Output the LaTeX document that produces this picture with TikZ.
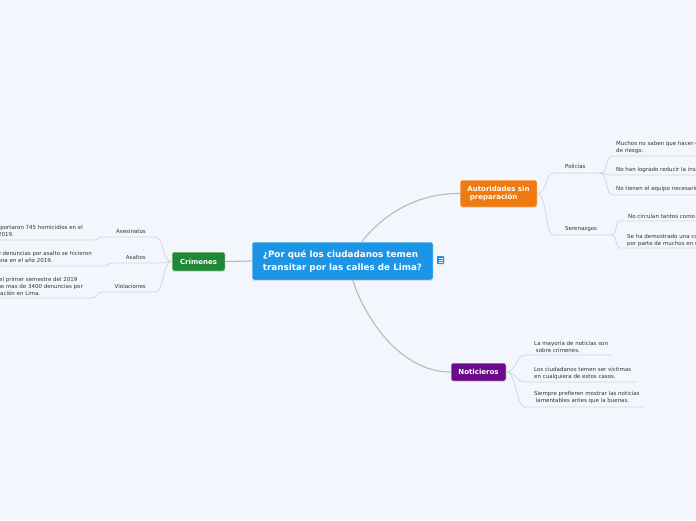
\documentclass[tikz,border=0pt]{standalone}
\usepackage{fontspec}
\setmainfont{DejaVu Sans}
\usetikzlibrary{shadows}
\definecolor{bg}{HTML}{F3F6FD}
\definecolor{cblue}{HTML}{1C95E6}
\definecolor{cgreen}{HTML}{1F8737}
\definecolor{corange}{HTML}{F07A12}
\definecolor{cpurple}{HTML}{6A0C8C}
\definecolor{cmain}{HTML}{B8B8BC}
\definecolor{csub}{HTML}{D2D4DC}
\definecolor{ctext}{HTML}{333333}
\tikzset{
  topic/.style={rounded corners=2pt, draw=white, line width=0.5pt, text=white,
    font=\bfseries\fontsize{7}{8.5}\selectfont, inner sep=0pt,
    drop shadow={shadow xshift=0.4pt, shadow yshift=-0.8pt, opacity=0.25}},
  mainline/.style={draw=cmain, line width=1.1pt},
  subline/.style={draw=csub, line width=0.7pt},
  leaf/.style={font=\fontsize{5.5}{6.9}\selectfont, text=ctext, inner sep=0pt, align=left},
  subt/.style={font=\fontsize{5.5}{6.9}\selectfont, text=ctext, inner sep=0pt},
}
\begin{document}
\begin{tikzpicture}[x=1pt,y=-1pt]
\useasboundingbox (0,0) rectangle (696,520);
\fill[bg] (0,0) rectangle (696,520);
\clip (0,0) rectangle (696,520);

% central and main topics
\node[topic, fill=cblue, minimum width=181pt, minimum height=38pt,
  font=\bfseries\fontsize{8.8}{12.8}\selectfont, align=left] (c) at (342.5,261)
  {¿Por qué los ciudadanos temen\\transitar por las calles de Lima?};
\node[topic, fill=cgreen, minimum width=53pt, minimum height=19pt] (crim) at (198.5,261.5) {Crímenes};
\node[topic, fill=corange, minimum width=77pt, minimum height=27pt, align=left,
  font=\bfseries\fontsize{7}{8.7}\selectfont] (aut) at (498.5,193.5) {Autoridades sin\\\ preparación};
\node[topic, fill=cpurple, minimum width=55pt, minimum height=18pt] (not) at (478.5,372) {Noticieros};

% note icon
\node[fill=cblue, rounded corners=0.6pt, minimum width=7pt, minimum height=8pt, inner sep=0pt] (icon) at (440.5,260) {};
\foreach \dy in {-2,0,2}
  \draw[white, line width=0.6pt] ([xshift=-2pt,yshift=\dy pt]icon.center) -- ([xshift=2pt,yshift=\dy pt]icon.center);

% main connectors
\draw[mainline] (c.west) -- (crim.east);
\draw[mainline] ([xshift=110pt]c.north west) .. controls (385,212) and (420,193) .. (aut.west);
\draw[mainline] ([xshift=101pt]c.south west) .. controls (365,318) and (400,372) .. (not.west);

% ---- Crimenes branch
\coordinate (ase-r) at (155,237); \coordinate (ase-l) at (102,237);
\coordinate (asa-r) at (158,263); \coordinate (asa-l) at (112,263);
\coordinate (vio-r) at (155,292); \coordinate (vio-l) at (102,292);
\node[subt, anchor=base east] (ase) at (146,233.5) {Asesinatos};
\node[subt, anchor=base east] (asa) at (146,259.5) {Asaltos};
\node[subt, anchor=base east] (vio) at (146,288.5) {Violaciones};
\draw[subline] (crim.west) .. controls +(-10,0) and +(10,0) .. (ase-r) -- (ase-l);
\draw[subline] (crim.west) .. controls +(-6,0) and +(6,0) .. (asa-r) -- (asa-l);
\draw[subline] (crim.west) .. controls +(-10,0) and +(10,0) .. (vio-r) -- (vio-l);

\coordinate (l1-r) at (94,240); \coordinate (l1-l) at (-5,240);
\coordinate (l2-r) at (104,266); \coordinate (l2-l) at (-5,266);
\coordinate (l3-r) at (92,298); \coordinate (l3-l) at (-5,298);
\draw[subline] (ase-l) .. controls +(-4,0) and +(4,0) .. (l1-r) -- (l1-l);
\draw[subline] (asa-l) .. controls +(-4,0) and +(4,0) .. (l2-r) -- (l2-l);
\draw[subline] (vio-l) .. controls +(-5,0) and +(5,0) .. (l3-r) -- (l3-l);
\node[leaf, anchor=north east] (t1) at (83,225.5) {Se reportaron 745 homicidios en el\\año 2019.};
\node[leaf, anchor=north east] (t2) at (92,251.5) {Un total de 18 000 denuncias por asalto se hicieron\\en la capital peruana en el año 2019.};
\node[leaf, anchor=north east] (t3) at (83,277.5) {En el primer semestre del 2019\\hubo mas de 3400 denuncias por\\violación en Lima.};

% ---- Autoridades branch
\coordinate (pol-l) at (553,173); \coordinate (pol-r) at (600,173);
\coordinate (ser-l) at (553,235); \coordinate (ser-r) at (612,235);
\node[subt, anchor=base west] (pol) at (565,168.5) {Policías};
\node[subt, anchor=base west] (ser) at (565,230.5) {Serenazgos};
\draw[subline] (aut.east) .. controls +(10,0) and +(-8,0) .. (pol-l) -- (pol-r);
\draw[subline] (aut.east) .. controls +(10,0) and +(-8,0) .. (ser-l) -- (ser-r);

\coordinate (p1-l) at (613,156); \coordinate (p1-r) at (700,156);
\coordinate (p2-l) at (613,175); \coordinate (p2-r) at (700,175);
\coordinate (p3-l) at (613,195); \coordinate (p3-r) at (700,195);
\draw[subline] (pol-r) .. controls +(8,0) and +(-8,0) .. (p1-l) -- (p1-r);
\draw[subline] (pol-r) .. controls +(8,0) and +(-8,0) .. (p2-l) -- (p2-r);
\draw[subline] (pol-r) .. controls +(8,0) and +(-8,0) .. (p3-l) -- (p3-r);
\node[leaf, anchor=north west] (pt1) at (616,141.5) {Muchos no saben que hacer en situaciones\\de riesgo.};
\node[leaf, anchor=north west] (pt2) at (616,167.5) {No han logrado reducir la inseguridad.};
\node[leaf, anchor=north west] (pt3) at (616,186.5) {No tienen el equipo necesario.};

\coordinate (s1-l) at (620,221); \coordinate (s1-r) at (700,221);
\coordinate (s2-l) at (620,248); \coordinate (s2-r) at (700,248);
\draw[subline] (ser-r) .. controls +(5,0) and +(-5,0) .. (s1-l) -- (s1-r);
\draw[subline] (ser-r) .. controls +(5,0) and +(-5,0) .. (s2-l) -- (s2-r);
\node[leaf, anchor=north west] (st1) at (628,213.5) {No circulan tantos como deberían.};
\node[leaf, anchor=north west] (st2) at (627,233.5) {Se ha demostrado una corrupción\\por parte de muchos en el cargo.};

% ---- Noticieros branch
\coordinate (n1-l) at (525,355); \coordinate (n1-r) at (612,355);
\coordinate (n2-l) at (525,382); \coordinate (n2-r) at (637,382);
\coordinate (n3-l) at (525,407); \coordinate (n3-r) at (643,407);
\draw[subline] (not.east) .. controls +(10,0) and +(-9,0) .. (n1-l) -- (n1-r);
\draw[subline] (not.east) .. controls +(10,0) and +(-9,0) .. (n2-l) -- (n2-r);
\draw[subline] (not.east) .. controls +(10,0) and +(-9,0) .. (n3-l) -- (n3-r);
\node[leaf, anchor=north west] (nt1) at (534,340.5) {La mayoría de noticias son\\\ sobre crímenes.};
\node[leaf, anchor=north west] (nt2) at (534,366.5) {Los ciudadanos temen ser víctimas\\en cualquiera de estos casos.};
\node[leaf, anchor=north west] (nt3) at (534,391.5) {Siempre prefieren mostrar las noticias\\\ lamentables antes que la buenas.};
\end{tikzpicture}
\end{document}
